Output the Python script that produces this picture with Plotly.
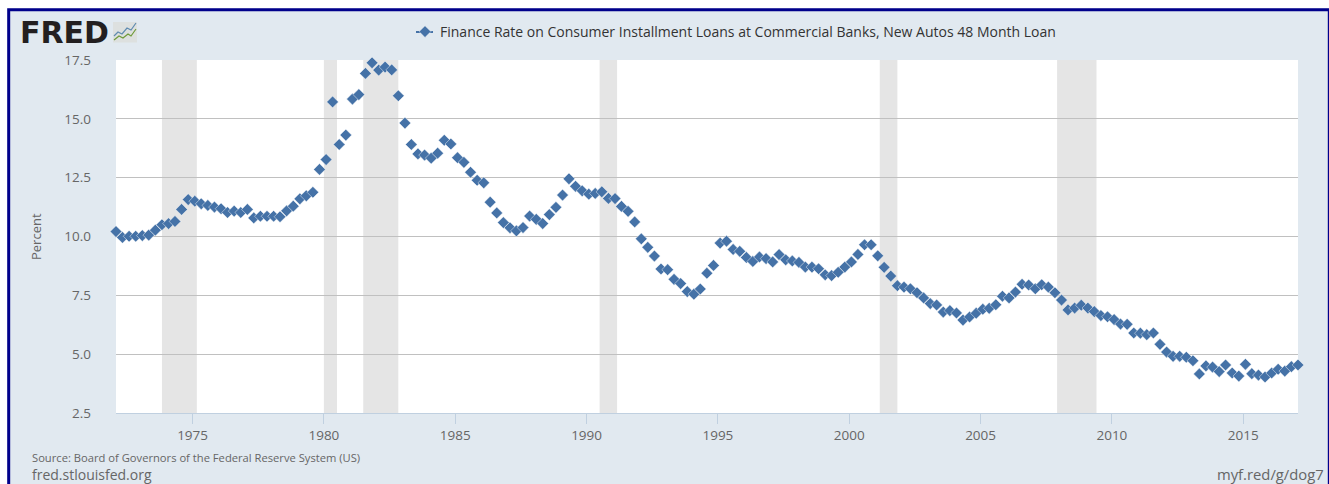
import pandas as pd
import plotly.graph_objects as go

SERIES_NAME = "Finance Rate on Consumer Installment Loans at Commercial Banks, New Autos 48 Month Loan"
first_month = "1972-02-01"
rate = [
    10.21, 9.96, 10.01, 10.01, 10.04, 10.06, 10.27, 10.50, 10.55, 10.64,
    11.15, 11.57, 11.50, 11.39, 11.32, 11.25, 11.18, 11.02, 11.08, 11.02,
    11.15, 10.79, 10.86, 10.86, 10.86, 10.84, 11.09, 11.29, 11.60, 11.73,
    11.88, 12.85, 13.27, 15.72, 13.91, 14.31, 15.84, 16.03, 16.93, 17.38,
    17.07, 17.20, 17.08, 15.98, 14.82, 13.91, 13.51, 13.46, 13.33, 13.54,
    14.09, 13.93, 13.35, 13.15, 12.73, 12.39, 12.28, 11.46, 11.00, 10.59,
    10.37, 10.24, 10.38, 10.87, 10.73, 10.55, 10.93, 11.24, 11.76, 12.45,
    12.13, 11.94, 11.80, 11.83, 11.90, 11.62, 11.61, 11.28, 11.07, 10.62,
    9.90, 9.54, 9.17, 8.62, 8.59, 8.18, 8.00, 7.66, 7.55, 7.77,
    8.44, 8.77, 9.72, 9.80, 9.45, 9.37, 9.11, 8.94, 9.13, 9.06,
    8.92, 9.23, 9.01, 8.96, 8.90, 8.70, 8.70, 8.63, 8.37, 8.34,
    8.48, 8.70, 8.92, 9.24, 9.65, 9.65, 9.18, 8.69, 8.32, 7.91,
    7.85, 7.78, 7.61, 7.39, 7.15, 7.09, 6.79, 6.85, 6.75, 6.45,
    6.58, 6.74, 6.91, 6.95, 7.10, 7.46, 7.39, 7.64, 7.97, 7.94,
    7.78, 7.95, 7.85, 7.61, 7.30, 6.88, 6.96, 7.08, 6.96, 6.81,
    6.64, 6.59, 6.47, 6.28, 6.27, 5.90, 5.89, 5.83, 5.90, 5.42,
    5.09, 4.91, 4.91, 4.87, 4.72, 4.16, 4.50, 4.45, 4.26, 4.54,
    4.20, 4.07, 4.57, 4.17, 4.11, 4.03, 4.20, 4.36, 4.28, 4.47,
    4.54,
]
recession_starts = ["1973-11-01", "1980-01-01", "1981-07-01", "1990-07-01", "2001-03-01", "2007-12-01"]
recession_ends = ["1975-03-01", "1980-07-01", "1982-11-01", "1991-03-01", "2001-11-01", "2009-06-01"]
x_tick_years = [1975, 1980, 1985, 1990, 1995, 2000, 2005, 2010, 2015]
y_ticks = [2.5, 5.0, 7.5, 10.0, 12.5, 15.0, 17.5]

W, H = 1329, 484
L, R, T, B = 116, 1298, 60, 413
INK = "#666666"
BLUE = "#4572A7"


def px(x):
    return (x - L) / (R - L)


def py(y):
    return (B - y) / (B - T)


dates = pd.date_range(first_month, periods=len(rate), freq="3MS")

fig = go.Figure()
fig.add_trace(go.Scatter(
    x=dates, y=rate, mode="markers", name=SERIES_NAME, cliponaxis=False,
    marker=dict(symbol="diamond", size=9, color=BLUE, line=dict(color="rgba(255,255,255,0.75)", width=0.6)),
))

shapes = []
for s, e in zip(recession_starts, recession_ends):
    shapes.append(dict(type="rect", xref="x", yref="paper", x0=s, x1=e, y0=0, y1=1,
                       fillcolor="#E5E5E5", line_width=0, layer="below"))


def rect(x0, y0, x1, y1, **kw):
    return dict(type="rect", xref="paper", yref="paper", x0=px(x0), x1=px(x1), y0=py(y0), y1=py(y1), **kw)


def poly(points, color, width):
    path = "M" + " L".join(f"{px(a):.5f},{py(b):.5f}" for a, b in points)
    return dict(type="path", xref="paper", yref="paper", path=path, line=dict(color=color, width=width))


# outer white margin and navy frame
shapes.append(rect(0, 0, W, 8.3, fillcolor="white", line_width=0))
shapes.append(rect(0, 0, 7.3, H, fillcolor="white", line_width=0))
shapes.append(rect(8.7, 9.7, W + 0.3, H + 10, line=dict(color="#00008B", width=3)))
# logo icon
shapes.append(rect(113, 22, 137, 42.5, fillcolor="#DDE0DF", line_width=0))
shapes.append(poly([(114, 36), (118, 32), (122, 34), (127, 28), (131, 30), (136, 23)], "#5F8BB0", 1.2))
shapes.append(poly([(114, 40), (119, 36), (123, 38), (128, 34), (131, 36), (136, 29)], "#6F9A3A", 1.2))
# legend key line
shapes.append(dict(type="line", xref="paper", yref="paper", x0=px(416), x1=px(433), y0=py(32), y1=py(32),
                   line=dict(color=BLUE, width=2)))


def note(text, x, y, size, anchor="left", color=INK, family="Open Sans", weight="normal"):
    return dict(text=text, xref="paper", yref="paper", x=px(x), y=py(y), xanchor=anchor, yanchor="middle",
                borderpad=0, showarrow=False, font=dict(family=family, size=size, color=color, weight=weight))


annotations = [
    note("Source: Board of Governors of the Federal Reserve System (US)", 31, 457, 11.2),
    note("fred.stlouisfed.org", 31, 474, 14),
    note("myf.red/g/dog7", 1325, 473.5, 14.8, anchor="right"),
    note("FRED", 19, 32.5, 30, color="#231F20", family="DejaVu Sans", weight="bold"),
]
annotations.append(dict(text="Percent", xref="paper", yref="paper", x=px(35.5), y=py(236.5), textangle=-90,
                        showarrow=False, xanchor="center", yanchor="middle",
                        font=dict(family="Open Sans", size=13, color=INK)))

fig.update_layout(
    width=W, height=H, autosize=False,
    margin=dict(l=L, r=W - R, t=T, b=H - B, pad=0),
    paper_bgcolor="#E1E9F0", plot_bgcolor="white",
    font=dict(family="Open Sans", color=INK, size=13),
    showlegend=True,
    legend=dict(x=px(405), y=py(32), xanchor="left", yanchor="middle", bgcolor="rgba(0,0,0,0)",
                font=dict(size=14, color="#333333"), itemwidth=30),
    xaxis=dict(
        type="date", range=[first_month, dates[-1]], tickmode="array",
        tickvals=[f"{y}-01-01" for y in x_tick_years], ticktext=[str(y) for y in x_tick_years],
        ticks="outside", ticklen=10, tickwidth=1, tickcolor="#C0D0E0", showgrid=False,
        showline=True, linecolor="#C0D0E0", linewidth=1, zeroline=False,
        tickfont=dict(size=13.5, color=INK),
    ),
    yaxis=dict(
        range=[2.5, 17.5], tickmode="array", tickvals=y_ticks, ticktext=[f"{v:.1f}" for v in y_ticks],
        showgrid=True, gridcolor="#C0C0C0", gridwidth=1, zeroline=False, showline=False,
        ticks="", ticklabelstandoff=24, tickfont=dict(size=13.5, color=INK),
    ),
    shapes=shapes, annotations=annotations,
)

fig.write_html("out.html", config={"displayModeBar": False},
               post_script="document.body.style.margin='0';document.body.style.overflow='hidden';"
                           "document.querySelectorAll('.legendtext').forEach(function(t){t.setAttribute('x',35);});")
